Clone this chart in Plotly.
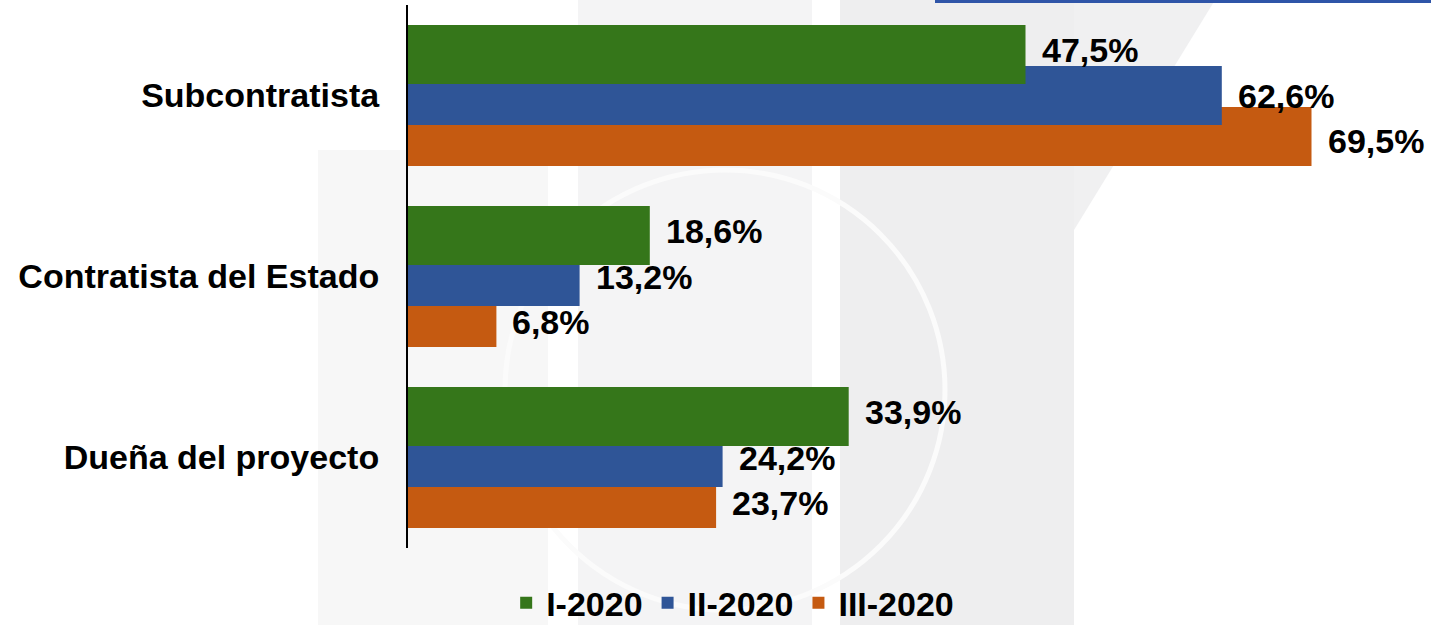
import plotly.graph_objects as go

# ---- data ----
categories = ["Dueña del proyecto", "Contratista del Estado", "Subcontratista"]  # bottom -> top
series_names = ["I-2020", "II-2020", "III-2020"]
values_I = [33.9, 18.6, 47.5]
values_II = [24.2, 13.2, 62.6]
values_III = [23.7, 6.8, 69.5]

colors = {"I-2020": "#35761A", "II-2020": "#2F5597", "III-2020": "#C55A11"}
series_vals = {"I-2020": values_I, "II-2020": values_II, "III-2020": values_III}

# bar placement within each category (category units)
bar_width = 0.326
offsets = {"I-2020": 0.064, "II-2020": -0.163, "III-2020": -0.39}
label_dy = {"I-2020": 0.25, "II-2020": 0.0, "III-2020": -0.25}
rank = {"I-2020": 1, "II-2020": 2, "III-2020": 3}

W, H = 1431, 625
ML, MR, MT, MB = 408, 9, 5, 77
PW, PH = W - ML - MR, H - MT - MB

FONT = "Arial, 'Liberation Sans', sans-serif"
FS = 34

fig = go.Figure()
# draw back-to-front: orange, blue, green (green on top)
for name in ["III-2020", "II-2020", "I-2020"]:
    fig.add_trace(go.Bar(
        name=name,
        y=categories,
        x=series_vals[name],
        orientation="h",
        offset=offsets[name],
        width=bar_width,
        marker=dict(color=colors[name], line=dict(width=0)),
        legendrank=rank[name],
        hoverinfo="skip",
    ))

annotations = []
for name in series_names:
    for i, v in enumerate(series_vals[name]):
        annotations.append(dict(
            x=v, y=i + label_dy[name], xref="x", yref="y",
            text=f"{v:.1f}".replace(".", ",") + "%",
            showarrow=False, xanchor="left", yanchor="middle", xshift=14,
            font=dict(family=FONT, size=FS, color="#000000", weight="bold"),
        ))


def px2paper_x(px):
    return (px - ML) / PW


def px2paper_y(py):
    return (H - MB - py) / PH


# faint background watermark (decorative)
shapes = []
def rect(x0, y0, x1, y1, color):
    shapes.append(dict(type="rect", xref="paper", yref="paper",
                       x0=px2paper_x(x0), x1=px2paper_x(x1),
                       y0=px2paper_y(y1), y1=px2paper_y(y0),
                       fillcolor=color, line=dict(width=0), layer="below"))

rect(318, 150, 548, 625, "#f7f7f7")
rect(578, 0, 812, 625, "#f4f4f5")
rect(840, 0, 1074, 625, "#eeeeef")
shapes.append(dict(type="path", xref="paper", yref="paper", layer="below",
                   path=f"M {px2paper_x(1074)},{px2paper_y(0)} L {px2paper_x(1215)},{px2paper_y(0)} "
                        f"L {px2paper_x(1074)},{px2paper_y(230)} Z",
                   fillcolor="#f0f0f1", line=dict(width=0)))
shapes.append(dict(type="circle", xref="paper", yref="paper", layer="below",
                   x0=px2paper_x(505), x1=px2paper_x(945),
                   y0=px2paper_y(610), y1=px2paper_y(170),
                   line=dict(color="#fbfbfb", width=5)))
# blue rule at top right
shapes.append(dict(type="rect", xref="paper", yref="paper",
                   x0=px2paper_x(935), x1=px2paper_x(1431),
                   y0=px2paper_y(3), y1=px2paper_y(0),
                   fillcolor="#2F55A8", line=dict(width=0), layer="above"))

fig.update_layout(
    width=W, height=H,
    margin=dict(l=ML, r=MR, t=MT, b=MB),
    barmode="overlay",
    paper_bgcolor="#ffffff",
    plot_bgcolor="rgba(0,0,0,0)",
    font=dict(family=FONT, color="#000000"),
    xaxis=dict(range=[0, 78], visible=False, fixedrange=True),
    yaxis=dict(
        type="category", categoryorder="array", categoryarray=categories,
        range=[-0.5, 2.5],
        showline=True, linecolor="#000000", linewidth=2,
        showgrid=False, zeroline=False, ticks="",
        ticklabelstandoff=20,
        tickfont=dict(family=FONT, size=FS, color="#000000", weight="bold"),
    ),
    legend=dict(
        orientation="h", xref="container", yref="container",
        x=0.512, xanchor="center", y=0.035, yanchor="middle",
        font=dict(family=FONT, size=FS, color="#000000", weight="bold"),
        bgcolor="rgba(0,0,0,0)", itemwidth=30, tracegroupgap=0,
    ),
    annotations=annotations,
    shapes=shapes,
    showlegend=True,
)

fig.write_html(
    "out.html",
    config={"displayModeBar": False},
    post_script="document.body.style.margin='0px';document.body.style.overflow='hidden';",
)
